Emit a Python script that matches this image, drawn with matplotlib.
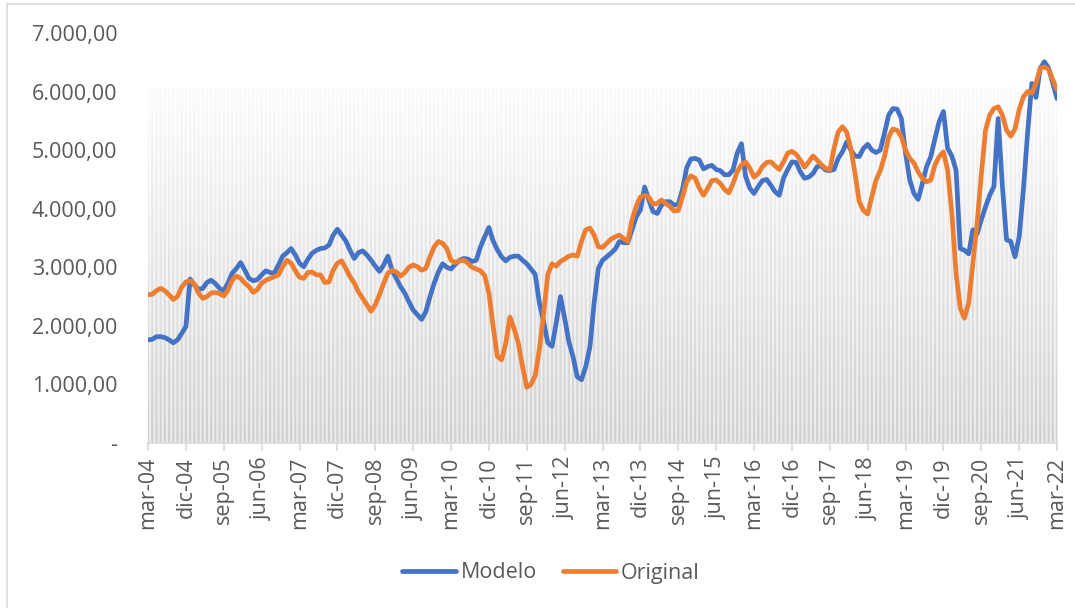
import numpy as np
import matplotlib
matplotlib.use("Agg")
import matplotlib.pyplot as plt
from matplotlib.colors import LinearSegmentedColormap
from matplotlib.path import Path
from matplotlib.patches import Rectangle

plt.rcParams["font.family"] = ["Open Sans", "DejaVu Sans"]

# -----------------------------------------------------
# Data (monthly, mar-04 .. mar-22)
# -----------------------------------------------------

modelo = [
    1760, 1770, 1815, 1815, 1800, 1760, 1710, 1760, 1870, 1990, 2800, 2700,
    2620, 2640, 2740, 2780, 2720, 2640, 2600, 2730, 2900, 2980, 3080, 2950,
    2810, 2770, 2790, 2870, 2940, 2910, 2900, 3040, 3190, 3250, 3320, 3210,
    3070, 3010, 3140, 3240, 3290, 3320, 3330, 3380, 3550, 3650, 3550, 3450,
    3290, 3150, 3250, 3280, 3210, 3120, 3020, 2930, 3040, 3190, 2950, 2810,
    2670, 2560, 2410, 2270, 2190, 2110, 2240, 2500, 2730, 2920, 3060, 3000,
    2970, 3050, 3120, 3150, 3140, 3100, 3120, 3350, 3520, 3680, 3450, 3300,
    3180, 3110, 3170, 3190, 3190, 3120, 3060, 2970, 2880, 2390, 2070, 1710,
    1650, 2050, 2500, 2130, 1730, 1470, 1130, 1080, 1300, 1640, 2390, 2980,
    3120, 3180, 3240, 3310, 3440, 3420, 3420, 3640, 3860, 3980, 4370, 4150,
    3950, 3920, 4060, 4120, 4120, 4060, 4080, 4330, 4700, 4850, 4860, 4830,
    4680, 4720, 4740, 4670, 4650, 4580, 4580, 4660, 4950, 5110, 4550, 4350,
    4260, 4380, 4480, 4500, 4400, 4290, 4230, 4520, 4670, 4800, 4790, 4630,
    4520, 4540, 4600, 4720, 4730, 4660, 4650, 4670, 4860, 4970, 5140, 5000,
    4900, 4890, 5030, 5100, 5000, 4960, 5000, 5290, 5600, 5710, 5700, 5540,
    4950, 4490, 4260, 4160, 4430, 4720, 4890, 5200, 5490, 5660, 5030, 4900,
    4660, 3320, 3290, 3230, 3640, 3570, 3810, 4030, 4230, 4380, 5540, 4400,
    3470, 3440, 3180, 3520, 4320, 5290, 6140, 5900, 6400, 6510, 6400, 6140,
    5880,
]

original = [
    2530, 2540, 2600, 2640, 2600, 2530, 2450, 2500, 2660, 2750, 2770, 2720,
    2560, 2470, 2500, 2560, 2570, 2550, 2510, 2610, 2780, 2850, 2810, 2730,
    2670, 2570, 2620, 2730, 2780, 2810, 2840, 2870, 3010, 3120, 3070, 2940,
    2830, 2810, 2910, 2920, 2870, 2870, 2740, 2750, 2950, 3070, 3110, 2980,
    2840, 2730, 2580, 2470, 2360, 2250, 2360, 2530, 2730, 2900, 2950, 2920,
    2850, 2910, 3000, 3040, 3010, 2950, 2980, 3180, 3350, 3440, 3410, 3320,
    3120, 3080, 3110, 3120, 3070, 3000, 2970, 2940, 2860, 2560, 1990, 1480,
    1420, 1700, 2150, 1950, 1700, 1300, 950, 1000, 1150, 1600, 2200, 2880,
    3060, 3020, 3100, 3140, 3190, 3210, 3190, 3440, 3640, 3670, 3550, 3350,
    3340, 3410, 3480, 3520, 3550, 3490, 3440, 3810, 4040, 4200, 4230, 4200,
    4080, 4090, 4150, 4090, 4040, 3960, 3970, 4200, 4460, 4560, 4520, 4350,
    4230, 4350, 4480, 4490, 4430, 4330, 4270, 4430, 4630, 4750, 4800, 4690,
    4540, 4600, 4720, 4790, 4800, 4730, 4670, 4800, 4950, 4980, 4930, 4830,
    4710, 4800, 4900, 4830, 4750, 4690, 4660, 5030, 5310, 5400, 5310, 5030,
    4600, 4120, 3970, 3910, 4210, 4490, 4650, 4890, 5230, 5360, 5340, 5230,
    5000, 4860, 4780, 4630, 4520, 4460, 4490, 4750, 4890, 4970, 4660, 3920,
    2900, 2300, 2130, 2390, 3070, 3750, 4580, 5340, 5600, 5710, 5740, 5600,
    5340, 5240, 5360, 5690, 5910, 6000, 5970, 6140, 6400, 6420, 6380, 6200,
    6030,
]

tick_labels = [
    "mar-04", "dic-04", "sep-05", "jun-06", "mar-07", "dic-07", "sep-08",
    "jun-09", "mar-10", "dic-10", "sep-11", "jun-12", "mar-13", "dic-13",
    "sep-14", "jun-15", "mar-16", "dic-16", "sep-17", "jun-18", "mar-19",
    "dic-19", "sep-20", "jun-21", "mar-22",
]

band_top = 6080  # height of the grey background columns

months = np.arange(len(modelo))

# -----------------------------------------------------
# Figure
# -----------------------------------------------------

fig = plt.figure(figsize=(10.75, 6.08), dpi=100)
ax = fig.add_axes([0.1377, 0.2714, 0.8456, 0.6743])

# light background gradient
bg_cmap = LinearSegmentedColormap.from_list("bg", ["#ebebeb", "#ffffff"])
grad = np.linspace(0, 1, 256).reshape(-1, 1)
ax.imshow(grad, cmap=bg_cmap, origin="lower", aspect="auto",
          extent=[0, len(months) - 1, 0, band_top], zorder=0)

# striped columns with gradient fill
bars = ax.bar(months, [band_top] * len(months), width=0.5,
              color="none", edgecolor="none", zorder=1)
paths = [b.get_path().transformed(b.get_patch_transform()) for b in bars]
clip = Path.make_compound_path(*paths)
bar_cmap = LinearSegmentedColormap.from_list("bars", ["#cfcfcf", "#fbfbfb"])
im = ax.imshow(grad, cmap=bar_cmap, origin="lower", aspect="auto",
               extent=[0, len(months) - 1, 0, band_top], zorder=1)
im.set_clip_path(clip, ax.transData)

ax.plot(months, modelo, color="#4472C4", lw=3.4, label="Modelo",
        solid_capstyle="round", solid_joinstyle="round", zorder=3)
ax.plot(months, original, color="#ED7D31", lw=3.4, label="Original",
        solid_capstyle="round", solid_joinstyle="round", zorder=3)

ax.set_xlim(0, len(months) - 1)
ax.set_ylim(0, 7000)

ax.set_xticks(np.arange(0, len(months), 9))
ax.set_xticklabels(tick_labels, rotation=90, fontsize=15.5, color="#595959")

yt = np.arange(0, 7001, 1000)
ax.set_yticks(yt)
ax.set_yticklabels(["-"] + [f"{v:,.2f}".replace(",", "X").replace(".", ",").replace("X", ".")
                            for v in yt[1:]],
                   fontsize=15.5, color="#595959")

for s in ["top", "right", "left"]:
    ax.spines[s].set_visible(False)
ax.spines["bottom"].set_color("#d9d9d9")
ax.spines["bottom"].set_linewidth(1.2)
ax.tick_params(axis="x", length=6, width=1.2, color="#d9d9d9", pad=4)
ax.tick_params(axis="y", length=0, pad=22)

fig.legend(loc="center", bbox_to_anchor=(551 / 1075, 1 - 573 / 608),
           ncol=2, frameon=False, fontsize=15.5, handlelength=2.5,
           handletextpad=0.2, columnspacing=1.2, labelcolor="#595959")

# chart area border
fig.patches.append(Rectangle((7 / 1075, -0.1), 1.2, 1 - 4 / 608 + 0.1,
                             transform=fig.transFigure, fill=False,
                             edgecolor="#d9d9d9", lw=1.2))

fig.savefig("out.png", dpi=100)
